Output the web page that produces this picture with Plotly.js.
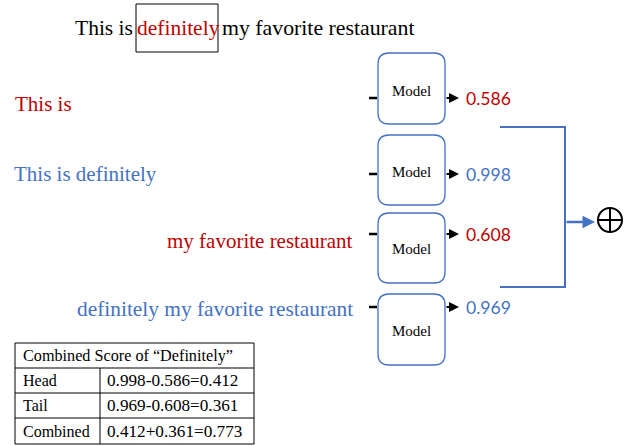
<!DOCTYPE html>
<html>
<head>
<meta charset="utf-8">
<script src="https://cdn.plot.ly/plotly-3.0.1.min.js"></script>
<style>html,body{margin:0;padding:0;background:#fff;}#chart{width:634px;height:446px;}</style>
</head>
<body>
<div id="chart"></div>
<script>
// ---- data ----
const sentenceParts = ["This is", "definitely", "my favorite restaurant"];
const phrases = ["This is", "This is definitely", "my favorite restaurant", "definitely my favorite restaurant"];
const phraseKinds = ["head", "head", "tail", "tail"];
const phraseColors = ["red", "blue", "red", "blue"];
const scores = [0.586, 0.998, 0.608, 0.969];
const modelLabel = "Model";
const tableHeader = "Combined Score of \u201CDefinitely\u201D";
const tableLabels = ["Head", "Tail", "Combined"];
const tableValues = ["0.998-0.586=0.412", "0.969-0.608=0.361", "0.412+0.361=0.773"];

// ---- style ----
const RED = "#C00000", BLUE = "#4472C4", BLACK = "#000000";
const colorOf = c => c === "red" ? RED : BLUE;
const SERIF = "Liberation Serif, DejaVu Serif, serif";
const SANS = "Lato, Liberation Sans, sans-serif";

// ---- layout positions ----
const boxX0 = 378, boxX1 = 445;
const boxTop = [53, 135, 213, 294], boxBot = [124, 205, 283, 365];
const modelY = [91, 172, 249, 331];
const ioY = [98, 174, 234, 307];
const phraseY = [104, 174, 241, 309];
const phraseX = [14, 13, 354, 354];
const phraseSize = [21, 21, 21, 21.4];
const phraseAnchor = ["left", "left", "right", "right"];

const shapes = [];
const annotations = [];

function rrect(x0, y0, x1, y1, r) {
  return `M ${x0+r},${y0} L ${x1-r},${y0} Q ${x1},${y0} ${x1},${y0+r} L ${x1},${y1-r} Q ${x1},${y1} ${x1-r},${y1} L ${x0+r},${y1} Q ${x0},${y1} ${x0},${y1-r} L ${x0},${y0+r} Q ${x0},${y0} ${x0+r},${y0} Z`;
}
function txt(x, y, text, opts) {
  annotations.push(Object.assign({x, y, xref: "x", yref: "y", text, showarrow: false,
    xanchor: "left", yanchor: "middle", borderpad: 0,
    font: {family: SERIF, size: 21, color: BLACK}}, opts || {}));
}

// title sentence with boxed word
txt(134, 28, sentenceParts[0], {xanchor: "right", font: {family: SERIF, size: 21.5, color: BLACK}});
txt(178, 28, sentenceParts[1], {xanchor: "center", font: {family: SERIF, size: 21.5, color: RED}});
txt(221, 28, sentenceParts[2], {xanchor: "left", font: {family: SERIF, size: 21.8, color: BLACK}});
shapes.push({type: "rect", xref: "x", yref: "y", x0: 136, x1: 218, y0: 4, y1: 52, line: {color: BLACK, width: 1}});

// rows
phrases.forEach((p, i) => {
  txt(phraseX[i], phraseY[i], p, {xanchor: phraseAnchor[i], font: {family: SERIF, size: phraseSize[i], color: colorOf(phraseColors[i])}});
  shapes.push({type: "path", xref: "x", yref: "y", path: rrect(boxX0, boxTop[i], boxX1, boxBot[i], 11), line: {color: BLUE, width: 1.3}, fillcolor: "rgba(0,0,0,0)"});
  txt((boxX0 + boxX1) / 2, modelY[i], modelLabel, {xanchor: "center", font: {family: SERIF, size: 15, color: BLACK}});
  shapes.push({type: "line", xref: "x", yref: "y", x0: 369, x1: 377, y0: ioY[i], y1: ioY[i], line: {color: BLACK, width: 2.5}});
  annotations.push({x: 459, y: ioY[i], ax: 445, ay: ioY[i], xref: "x", yref: "y", axref: "x", ayref: "y",
    text: "", showarrow: true, arrowhead: 2, arrowsize: 1, arrowwidth: 2, arrowcolor: BLACK});
  txt(465, ioY[i], scores[i].toFixed(3), {font: {family: SANS, size: 17.6, color: colorOf(phraseColors[i])}});
});

// bracket and combine
shapes.push({type: "path", xref: "x", yref: "y", path: "M 500,127 L 565,127 L 565,287 L 500,287", line: {color: BLUE, width: 2}});
annotations.push({x: 595, y: 222, ax: 565, ay: 222, xref: "x", yref: "y", axref: "x", ayref: "y",
  text: "", showarrow: true, arrowhead: 2, arrowsize: 1, arrowwidth: 2.5, arrowcolor: BLUE});
shapes.push({type: "circle", xref: "x", yref: "y", x0: 598, x1: 622, y0: 208, y1: 232, line: {color: BLACK, width: 2}});
shapes.push({type: "line", xref: "x", yref: "y", x0: 598, x1: 622, y0: 220, y1: 220, line: {color: BLACK, width: 2}});
shapes.push({type: "line", xref: "x", yref: "y", x0: 610, x1: 610, y0: 208, y1: 232, line: {color: BLACK, width: 2}});

// table
const tX0 = 15, tX1 = 254, tCol = 100;
const rowLines = [343, 368, 393, 418, 444];
shapes.push({type: "rect", xref: "x", yref: "y", x0: tX0, x1: tX1, y0: rowLines[0], y1: rowLines[4], line: {color: BLACK, width: 1}});
for (let k = 1; k < 4; k++) shapes.push({type: "line", xref: "x", yref: "y", x0: tX0, x1: tX1, y0: rowLines[k], y1: rowLines[k], line: {color: BLACK, width: 1}});
shapes.push({type: "line", xref: "x", yref: "y", x0: tCol, x1: tCol, y0: rowLines[1], y1: rowLines[4], line: {color: BLACK, width: 1}});
const LF = {family: SERIF, size: 16, color: BLACK};
txt(22, (rowLines[0] + rowLines[1]) / 2, tableHeader, {font: {family: SERIF, size: 16.2, color: BLACK}});
tableLabels.forEach((l, i) => {
  const yc = (rowLines[i + 1] + rowLines[i + 2]) / 2;
  txt(22, yc, l, {font: LF});
  txt(106, yc, tableValues[i], {font: {family: SERIF, size: 17.2, color: BLACK}});
});

const data = [{x: [0, 634], y: [0, 446], mode: "markers", marker: {opacity: 0}, hoverinfo: "skip", showlegend: false}];
const layout = {
  width: 634, height: 446, margin: {l: 0, r: 0, t: 0, b: 0},
  paper_bgcolor: "#fff", plot_bgcolor: "#fff",
  xaxis: {range: [0, 634], visible: false, fixedrange: true},
  yaxis: {range: [446, 0], visible: false, fixedrange: true},
  shapes, annotations, showlegend: false
};
Plotly.newPlot("chart", data, layout, {staticPlot: true, displayModeBar: false});
</script>
</body>
</html>
